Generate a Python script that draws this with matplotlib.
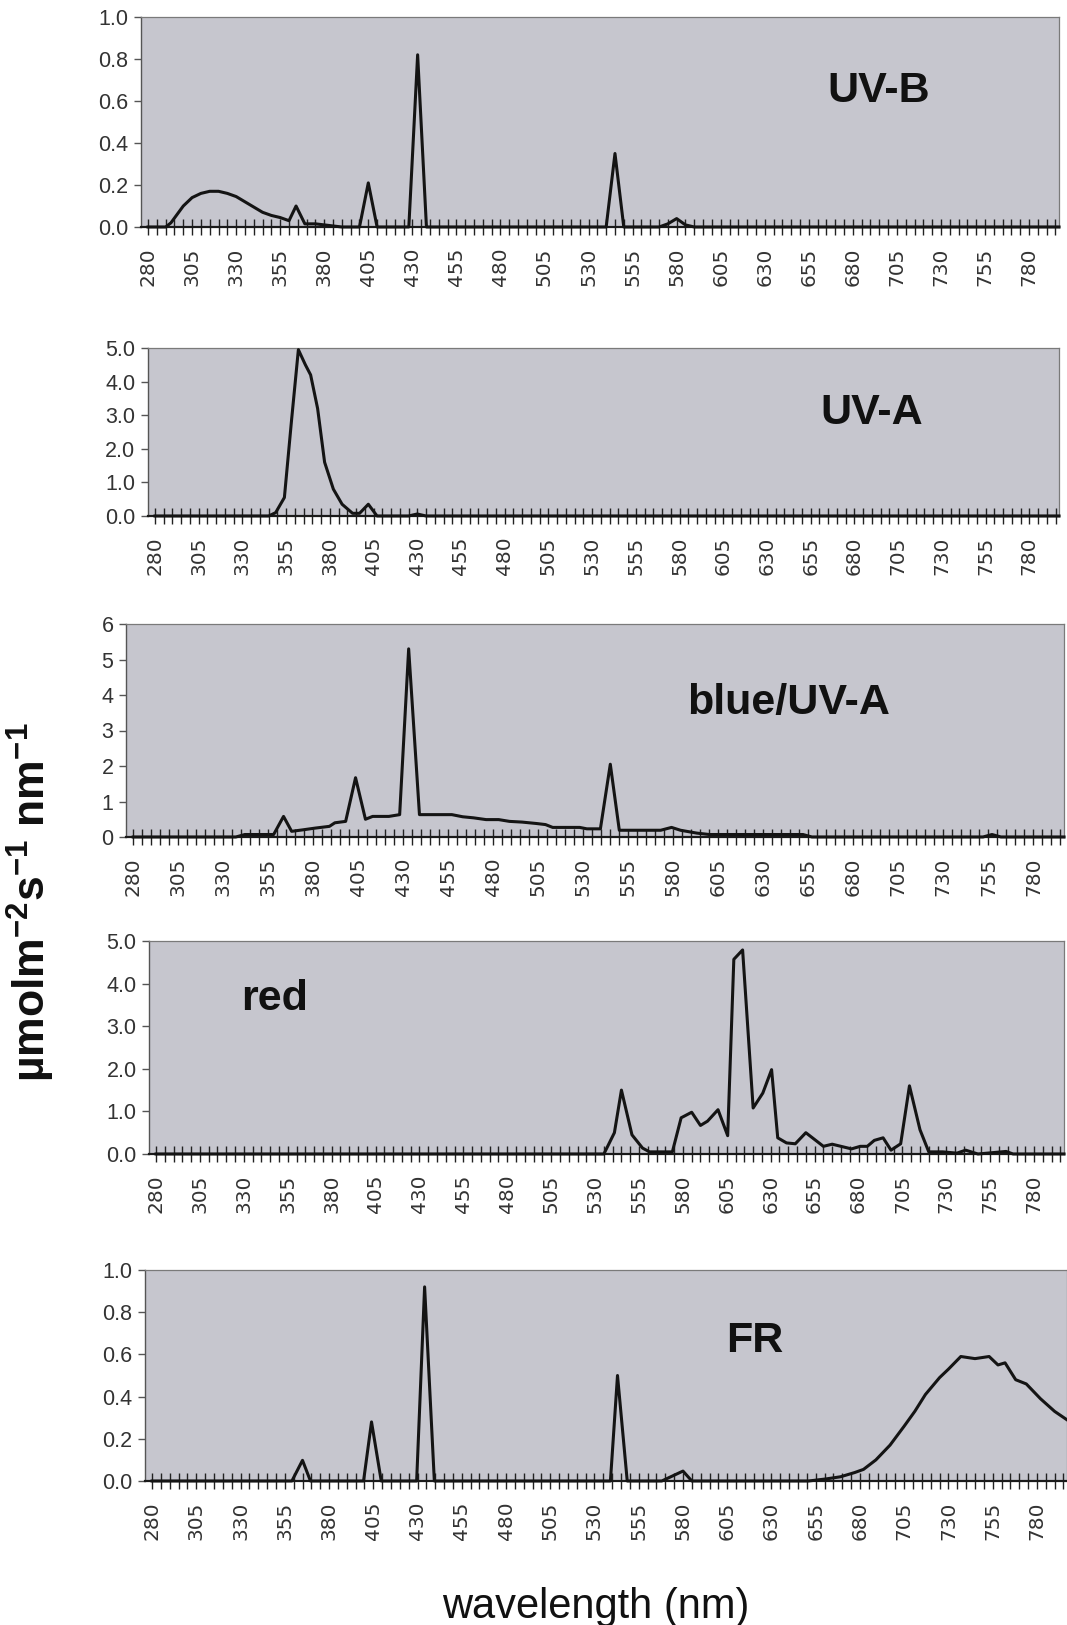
import matplotlib
matplotlib.use("Agg")
import matplotlib.pyplot as plt
from matplotlib.ticker import FixedLocator, FixedFormatter

plt.rcParams['font.family'] = ['Liberation Sans', 'DejaVu Sans']
plt.rcParams['mathtext.fontset'] = 'custom'
plt.rcParams['mathtext.rm'] = 'Liberation Sans:bold'
plt.rcParams['mathtext.it'] = 'Liberation Sans:bold'
plt.rcParams['mathtext.bf'] = 'Liberation Sans:bold'
plt.rcParams['mathtext.default'] = 'rm'

# ---------------- data ----------------
tick_labels = [str(v) for v in range(280, 781, 25)]

wl_uvb = [280, 290, 293, 300, 305, 310, 315, 320, 325, 330, 335, 340, 345, 350, 355, 360,
          364, 369, 375, 380, 385, 390, 400, 405, 410, 428, 433, 438, 540, 545, 550,
          570, 575, 580, 585, 590, 797]
val_uvb = [0, 0, 0.02, 0.10, 0.14, 0.16, 0.17, 0.17, 0.16, 0.145, 0.12, 0.095, 0.07, 0.055, 0.045, 0.03,
           0.10, 0.015, 0.015, 0.01, 0.005, 0, 0, 0.21, 0, 0, 0.82, 0, 0, 0.35, 0,
           0, 0.015, 0.04, 0.01, 0, 0]

wl_uva = [280, 345, 349, 354, 358, 362, 366, 369, 373, 377, 382, 387, 393, 397, 402, 407,
          425, 430, 435, 797]
val_uva = [0, 0, 0.1, 0.55, 2.8, 4.95, 4.5, 4.2, 3.2, 1.6, 0.8, 0.35, 0.08, 0.08, 0.35, 0,
           0, 0.06, 0, 0]

wl_blue = [280, 337, 342, 358, 363.5, 368, 374, 381, 389, 392, 398, 403.5, 409, 413, 422, 428,
           433, 439, 457, 463, 469, 476, 483, 489, 496, 504, 509, 513, 528, 532, 539.5,
           545, 550, 573, 579, 584, 593, 600, 652, 657, 752, 757, 762, 797]
val_blue = [0, 0, 0.07, 0.07, 0.58, 0.16, 0.2, 0.25, 0.3, 0.4, 0.44, 1.67, 0.5, 0.58, 0.58, 0.63,
            5.3, 0.63, 0.63, 0.57, 0.54, 0.49, 0.49, 0.44, 0.42, 0.38, 0.35, 0.27, 0.27, 0.23, 0.23,
            2.05, 0.19, 0.19, 0.27, 0.19, 0.11, 0.07, 0.07, 0, 0, 0.07, 0, 0]

wl_red = [280, 535, 541, 545, 551, 557, 561, 574, 579, 585, 590, 594, 600, 605.5, 609, 614,
          620, 625.5, 630.5, 634, 639, 644, 650, 655, 660, 665, 670, 676, 681, 685, 689,
          694, 698.5, 704, 709, 715, 720, 728, 736, 741, 748, 764, 768, 797]
val_red = [0, 0, 0.5, 1.5, 0.45, 0.14, 0.05, 0.05, 0.85, 0.98, 0.67, 0.77, 1.04, 0.43, 4.57, 4.79,
           1.08, 1.43, 1.98, 0.38, 0.26, 0.24, 0.5, 0.34, 0.18, 0.23, 0.18, 0.12, 0.18, 0.18, 0.32,
           0.38, 0.09, 0.24, 1.6, 0.57, 0.05, 0.05, 0.02, 0.09, 0, 0.06, 0, 0]

wl_fr = [280, 359, 365, 369.5, 399.5, 404, 409.5, 429.5, 434, 439.5, 539, 543, 548.5, 568, 580,
         585, 651, 661, 669, 677, 682, 689, 697, 705, 711, 717, 725, 730, 737, 745, 753,
         758, 762, 768, 774, 782, 790, 797]
val_fr = [0, 0, 0.098, 0, 0, 0.28, 0, 0, 0.92, 0, 0, 0.5, 0, 0, 0.047,
          0, 0, 0.01, 0.02, 0.04, 0.055, 0.1, 0.17, 0.26, 0.33, 0.41, 0.49, 0.53, 0.59, 0.58, 0.59,
          0.55, 0.56, 0.48, 0.46, 0.39, 0.33, 0.29]

panel_names = ['UV-B', 'UV-A', 'blue/UV-A', 'red', 'FR']
y_ticks = [[0, 0.2, 0.4, 0.6, 0.8, 1.0], [0, 1, 2, 3, 4, 5], [0, 1, 2, 3, 4, 5, 6],
           [0, 1, 2, 3, 4, 5], [0, 0.2, 0.4, 0.6, 0.8, 1.0]]
y_tick_labels = [['0.0', '0.2', '0.4', '0.6', '0.8', '1.0'],
                 ['0.0', '1.0', '2.0', '3.0', '4.0', '5.0'],
                 ['0', '1', '2', '3', '4', '5', '6'],
                 ['0.0', '1.0', '2.0', '3.0', '4.0', '5.0'],
                 ['0.0', '0.2', '0.4', '0.6', '0.8', '1.0']]
series = [(wl_uvb, val_uvb), (wl_uva, val_uva), (wl_blue, val_blue), (wl_red, val_red), (wl_fr, val_fr)]

# ---------------- layout ----------------
W, H = 1067, 1625
fig = plt.figure(figsize=(W / 100, H / 100), dpi=100)
fig.patch.set_facecolor('white')

boxes = [(141, 1059, 17, 227), (148, 1059, 348, 516), (126, 1064, 624, 837),
         (149, 1064, 941, 1154), (145, 1067, 1270, 1481)]
name_pos = [(879, 91), (872, 413), (789, 703), (275, 999), (755, 1341)]
bg = '#c6c6ce'

major = list(range(280, 781, 25))
minor = list(range(280, 796, 5))

for i, ((l, r, t, b), (wl, val)) in enumerate(zip(boxes, series)):
    ax = fig.add_axes([l / W, 1 - b / H, (r - l) / W, (b - t) / H])
    ax.set_facecolor(bg)
    ax.plot(wl, val, color='#141414', lw=2.2, clip_on=False, zorder=5)
    ax.set_xlim(276, 797)
    ax.set_ylim(0, y_ticks[i][-1])
    for s in ['top', 'right']:
        ax.spines[s].set_color('#7a7a7a')
        ax.spines[s].set_linewidth(0.9)
    ax.spines['left'].set_color('#555555')
    ax.spines['left'].set_linewidth(1.0)
    ax.spines['bottom'].set_color('#1a1a1a')
    ax.spines['bottom'].set_linewidth(1.6)
    ax.xaxis.set_major_locator(FixedLocator(major))
    ax.xaxis.set_major_formatter(FixedFormatter(tick_labels))
    ax.xaxis.set_minor_locator(FixedLocator(minor))
    ax.tick_params(axis='x', which='both', direction='inout', length=12, width=1.0,
                   color='#222222')
    ax.tick_params(axis='x', which='major', labelsize=14.5, labelrotation=90, pad=9,
                   labelcolor='#333333')
    for lab in ax.get_xticklabels():
        lab.set_family('DejaVu Sans')
    ax.set_yticks(y_ticks[i])
    ax.set_yticklabels(y_tick_labels[i])
    ax.tick_params(axis='y', direction='out', length=5, width=1.0, color='#555555',
                   labelsize=15.5, labelcolor='#333333', pad=4)
    fig.text(name_pos[i][0] / W, 1 - name_pos[i][1] / H, panel_names[i], ha='center',
             va='center', fontsize=31, fontweight='bold', color='#111111')

fig.text(31 / W, 1 - 902 / H, 'µmolm$^{-2}$s$^{-1}$ nm$^{-1}$', rotation=90, ha='center',
         va='center', fontsize=32, fontweight='bold', color='#111111')
fig.text(596 / W, 1 - 1607 / H, 'wavelength (nm)', ha='center', va='center', fontsize=30,
         color='#111111')

fig.savefig('out.png', dpi=100, facecolor='white')
